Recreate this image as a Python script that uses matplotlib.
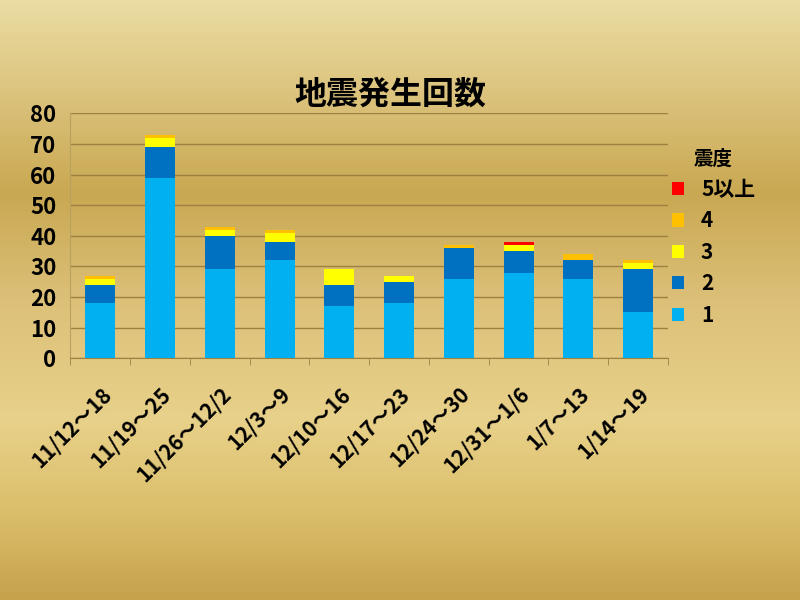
import numpy as np
import matplotlib.pyplot as plt
from matplotlib.colors import LinearSegmentedColormap

plt.rcParams['font.family'] = ['Noto Sans CJK JP', 'DejaVu Sans']

weeks = ['11/12～18', '11/19～25', '11/26～12/2', '12/3～9', '12/10～16',
         '12/17～23', '12/24～30', '12/31～1/6', '1/7～13', '1/14～19']
shindo1 = [18, 59, 29, 32, 17, 18, 26, 28, 26, 15]
shindo2 = [6, 10, 11, 6, 7, 7, 10, 7, 6, 14]
shindo3 = [2, 3, 2, 3, 5, 2, 0, 2, 0, 2]
shindo4 = [1, 1, 1, 1, 0, 0, 1, 0, 2, 1]
shindo5 = [0, 0, 0, 0, 0, 0, 0, 1, 0, 0]

series = [('1', shindo1, '#00b0f0'), ('2', shindo2, '#0070c0'),
          ('3', shindo3, '#ffff00'), ('4', shindo4, '#ffc000'),
          ('5以上', shindo5, '#ff0000')]

fig = plt.figure(figsize=(8, 6), dpi=100)

# gold background
bg = fig.add_axes([0, 0, 1, 1], zorder=-10)
gold = LinearSegmentedColormap.from_list('gold', [
    (0.0, '#eadca2'), (0.15, '#dcc47e'), (0.32, '#c9a852'),
    (0.5, '#dcc078'), (0.7, '#e8d18a'), (0.86, '#dbbe6a'), (1.0, '#c6a24c')])
grad = np.linspace(0, 1, 300)[:, None] * np.ones((1, 10))
bg.imshow(grad, cmap=gold, aspect='auto', extent=[0, 1, 0, 1], origin='upper')
bg.axis('off')

ax = fig.add_axes([0.088, 0.403, 0.747, 0.408])
ax.set_facecolor('none')
x = np.arange(len(weeks))
bottom = np.zeros(len(weeks))
handles = {}
for name, vals, col in series:
    h = ax.bar(x, vals, 0.5, bottom=bottom, color=col, zorder=3)
    handles[name] = h
    bottom += np.array(vals)

ax.set_ylim(0, 80)
ax.set_xlim(-0.5, len(weeks) - 0.5)
ax.set_yticks(range(0, 81, 10))
ax.yaxis.grid(True, color='#9c8140', linewidth=1, zorder=0)
ax.tick_params(axis='y', length=0, labelsize=16, pad=10)
for lab in ax.get_yticklabels():
    lab.set_fontweight('bold')
ax.set_xticks(x)
ax.set_xticklabels(weeks, rotation=45, ha='right', rotation_mode='anchor',
                   fontsize=15, fontweight='bold')
ax.set_xticks(np.arange(-0.5, len(weeks)), minor=True)
ax.tick_params(axis='x', which='major', length=0, pad=18)
ax.tick_params(axis='x', which='minor', length=5, color='#9c8140')
for s in ['top', 'right']:
    ax.spines[s].set_visible(False)
ax.spines['left'].set_color('#b8a060')
ax.spines['bottom'].set_color('#9c8140')

fig.text(0.4875, 0.842, '地震発生回数', fontsize=23, fontweight='bold',
         ha='center', va='center')

order = ['5以上', '4', '3', '2', '1']
leg = ax.legend([handles[k] for k in order], order, title='震度',
                loc='upper left', bbox_to_anchor=(0.975, 0.93), frameon=False,
                prop={'size': 15, 'weight': 'bold'}, handlelength=0.6,
                handleheight=0.6, handletextpad=0.8, labelspacing=0.5)
leg.get_title().set_fontweight('bold')
leg.get_title().set_fontsize(14)

fig.savefig('out.png', dpi=100)
